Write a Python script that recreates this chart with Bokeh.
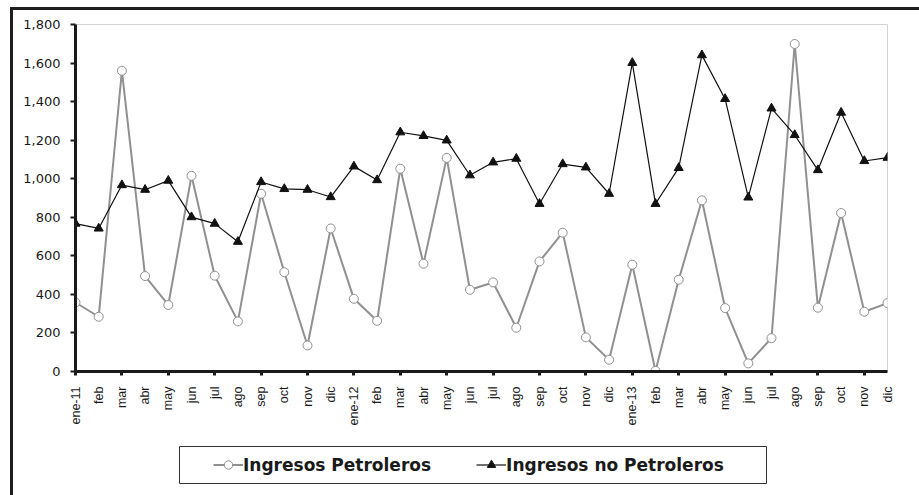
import math
from bokeh.plotting import figure
from bokeh.layouts import column
from bokeh.models import BoxAnnotation, FixedTicker, Legend, LegendItem, NumeralTickFormatter, Range1d
from bokeh.embed import file_html
from bokeh.resources import INLINE

months = ["ene-11", "feb", "mar", "abr", "may", "jun", "jul", "ago", "sep", "oct", "nov", "dic",
          "ene-12", "feb", "mar", "abr", "may", "jun", "jul", "ago", "sep", "oct", "nov", "dic",
          "ene-13", "feb", "mar", "abr", "may", "jun", "jul", "ago", "sep", "oct", "nov", "dic"]

petroleros = [358, 284, 1560, 495, 345, 1015, 497, 260, 922, 515, 135, 742,
              377, 263, 1052, 559, 1108, 424, 462, 227, 571, 720, 177, 61,
              554, 3, 476, 888, 329, 42, 173, 1699, 331, 822, 310, 355]

no_petroleros = [767, 742, 967, 943, 990, 801, 767, 673, 983, 947, 943, 905,
                 1064, 993, 1241, 1222, 1199, 1018, 1085, 1104, 870, 1076, 1059, 922,
                 1601, 870, 1056, 1641, 1414, 903, 1365, 1227, 1045, 1343, 1092, 1109]

series_names = ["Ingresos Petroleros", "Ingresos no Petroleros"]

y_ticks = list(range(0, 1801, 200))
x = list(range(len(months)))

gray = "#909090"
dark = "#111111"

# ---------------- main chart ----------------
p = figure(frame_width=812, frame_height=347, x_range=Range1d(0, len(months) - 1), y_range=Range1d(0, 1800),
           output_backend="svg", toolbar_location=None,
           min_border_left=62, min_border_top=14, min_border_right=32, min_border_bottom=60,
           background_fill_color="white", border_fill_color="white")

p.outline_line_color = "#d2d2d2"
p.outline_line_width = 1
p.xgrid.visible = False
p.ygrid.visible = False

p.xaxis.ticker = FixedTicker(ticks=x, minor_ticks=x[::2])
p.xaxis.major_label_overrides = {i: m for i, m in enumerate(months)}
p.xaxis.major_label_orientation = math.pi / 2
p.xaxis.major_tick_out = 0
p.xaxis.major_tick_in = 0
p.xaxis.minor_tick_out = 4
p.xaxis.minor_tick_in = 0
p.xaxis.minor_tick_line_width = 3
p.xaxis.minor_tick_line_color = "#1a1a1a"
p.xaxis.major_label_standoff = 11
p.xaxis.major_label_text_font = "Liberation Sans"
p.xaxis.major_label_text_font_size = "12.5px"
p.xaxis.major_label_text_color = "#1a1a1a"
p.xaxis.axis_line_width = 3
p.xaxis.axis_line_color = "#1a1a1a"

p.yaxis.ticker = FixedTicker(ticks=y_ticks, minor_ticks=[])
p.yaxis.formatter = NumeralTickFormatter(format="0,0")
p.yaxis.major_tick_out = 5
p.yaxis.major_tick_in = 0
p.yaxis.major_tick_line_width = 2
p.yaxis.major_tick_line_color = "#1a1a1a"
p.yaxis.major_label_standoff = 10
p.yaxis.major_label_text_font = "DejaVu Sans"
p.yaxis.major_label_text_font_size = "13px"
p.yaxis.major_label_text_color = "#1a1a1a"
p.yaxis.axis_line_width = 3
p.yaxis.axis_line_color = "#1a1a1a"

p.line(x, petroleros, line_color=gray, line_width=2)
p.scatter(x, petroleros, marker="circle", size=9, fill_color="white", line_color=gray, line_width=1)
p.line(x, no_petroleros, line_color=dark, line_width=1.2)
p.scatter(x, no_petroleros, marker="triangle", size=9, fill_color=dark, line_color=dark)

# ---------------- legend strip ----------------
# same horizontal frame as the chart; its y range lies far above the data,
# so the proxy renderers only show up inside the legend
lp = figure(frame_width=812, frame_height=41, x_range=Range1d(0, len(months) - 1), y_range=Range1d(5000, 6000),
            x_axis_type=None, y_axis_type=None, output_backend="svg", toolbar_location=None,
            min_border_left=62, min_border_right=32, min_border_top=13, min_border_bottom=10,
            background_fill_color="white", border_fill_color="white")
lp.outline_line_alpha = 0
lp.xgrid.visible = False
lp.ygrid.visible = False

l1 = lp.line(x, petroleros, line_color=gray, line_width=2)
m1 = lp.scatter(x, petroleros, marker="circle", fill_color="white", line_color=gray, line_width=1)
l2 = lp.line(x, no_petroleros, line_color=dark, line_width=1.2)
m2 = lp.scatter(x, no_petroleros, marker="triangle", fill_color=dark, line_color=dark)

# legend box (screen units, relative to the strip's frame)
lp.add_layout(BoxAnnotation(left=104, right=691, top=39, bottom=2,
                            left_units="screen", right_units="screen",
                            top_units="screen", bottom_units="screen",
                            fill_alpha=0, line_color="#333333", line_width=1, line_alpha=1))

legend = Legend(items=[LegendItem(label=series_names[0], renderers=[l1, m1]),
                       LegendItem(label=series_names[1], renderers=[l2, m2])],
                orientation="horizontal", location=(138, 10))
legend.label_text_font = "DejaVu Sans"
legend.label_text_font_style = "bold"
legend.label_text_font_size = "17px"
legend.label_text_color = "#1a1a1a"
legend.border_line_alpha = 0
legend.background_fill_alpha = 0
legend.padding = 0
legend.margin = 0
legend.spacing = 45
legend.glyph_width = 30
legend.glyph_height = 21
legend.label_height = 21
legend.label_standoff = 0
lp.add_layout(legend)

layout = column(p, lp, margin=(7, 0, 0, 10), spacing=0,
                styles={"border-top": "3px solid #1e1e1e",
                        "border-left": "3px solid #1e1e1e",
                        "border-right": "3px solid #1e1e1e"})

open("out.html", "w").write(file_html(layout, INLINE))
